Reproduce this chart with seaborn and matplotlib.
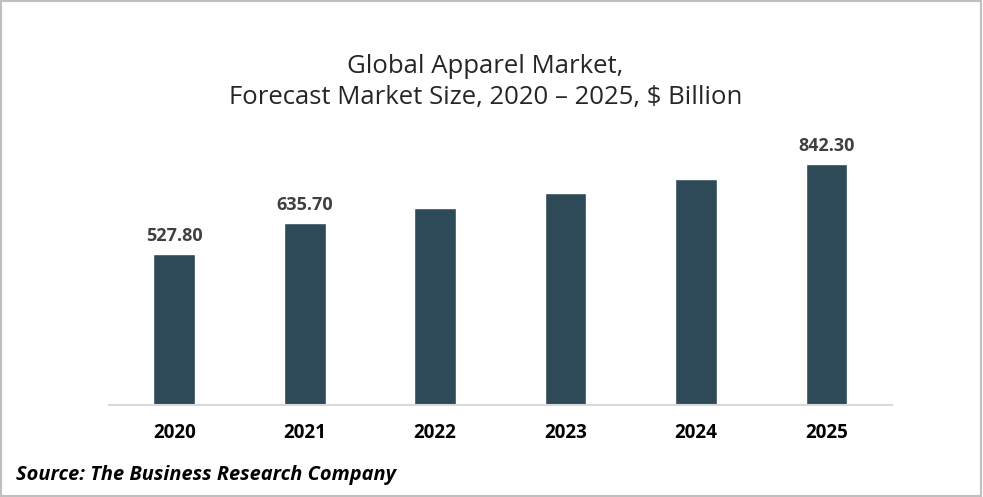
import matplotlib.pyplot as plt
import pandas as pd
import seaborn as sns

# chart data
years = ['2020', '2021', '2022', '2023', '2024', '2025']
market_size = [527.8, 635.7, 689.6, 740.0, 788.4, 842.3]
shown_labels = ['527.80', '635.70', None, None, None, '842.30']

df = pd.DataFrame({'year': years, 'value': market_size})

sns.set_style('white')
plt.rcParams['font.family'] = ['Open Sans', 'DejaVu Sans']

fig = plt.figure(figsize=(9.83, 4.97), dpi=100)
ax = fig.add_axes([0.111, 0.185, 0.796, 0.533])

sns.barplot(data=df, x='year', y='value', color='#2E4A59', width=0.32,
            saturation=1, ax=ax)

# value labels above some bars
for i, lab in enumerate(shown_labels):
    if lab:
        ax.text(i, market_size[i] + 30, lab, ha='center', va='bottom',
                fontsize=13, fontweight='bold', color='#404040')

ax.set_xlim(-0.5, 5.5)
ax.set_ylim(0, 925)
ax.set_yticks([])
ax.set_xlabel('')
ax.set_ylabel('')
for s in ['top', 'right', 'left']:
    ax.spines[s].set_visible(False)
ax.spines['bottom'].set_color('#D9D9D9')
ax.spines['bottom'].set_linewidth(1.5)
ax.tick_params(axis='x', length=0, pad=13)
for t in ax.get_xticklabels():
    t.set_fontsize(13.5)
    t.set_fontweight('bold')
    t.set_color('black')

fig.text(0.494, 0.835, 'Global Apparel Market,\nForecast Market Size, 2020 – 2025, $ Billion',
         ha='center', va='center', fontsize=18.5, color='#262626', linespacing=1.36)
fig.text(0.016, 0.044, 'Source: The Business Research Company', ha='left', va='center',
         fontsize=14.4, fontweight='bold', fontstyle='italic', color='black')

# light frame round the picture
fig.patches.append(plt.Rectangle((0.001, 0.002), 0.997, 0.996, transform=fig.transFigure,
                                 fill=False, edgecolor='#BFBFBF', linewidth=1.5))

fig.savefig('out.png', dpi=100)
